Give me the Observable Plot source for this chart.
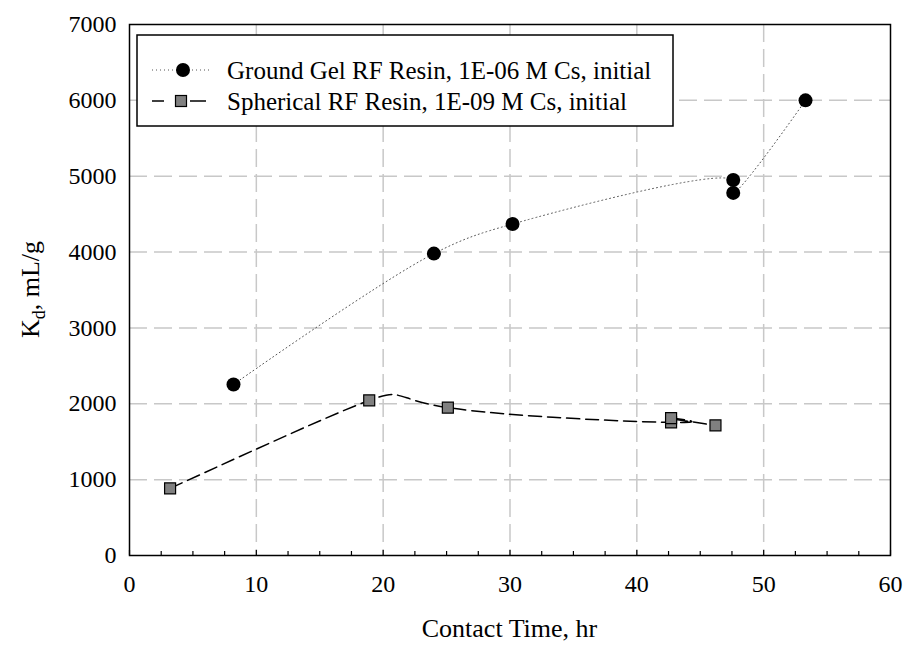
<!DOCTYPE html>
<html>
<head>
<meta charset="utf-8">
<script src="https://cdn.jsdelivr.net/npm/d3@7"></script>
<script src="https://cdn.jsdelivr.net/npm/@observablehq/plot@0.6"></script>
<style>
  html, body { margin: 0; padding: 0; background: white; }
  #chart { width: 906px; height: 646px; }
</style>
</head>
<body>
<div id="chart"></div>
<script>
// ---- data ----
const gelTime = [8.2, 24.0, 30.2, 47.6, 47.6, 53.3];
const gelKd   = [2255, 3980, 4370, 4950, 4780, 6000];
const sphTime = [3.2, 18.9, 25.1, 42.7, 42.7, 46.2];
const sphKd   = [885, 2045, 1950, 1755, 1810, 1715];

const xMajorTicks = [0, 10, 20, 30, 40, 50, 60];
const xMinorTicks = [2.5, 5, 7.5, 12.5, 15, 17.5, 22.5, 25, 27.5, 32.5, 35, 37.5, 42.5, 45, 47.5, 52.5, 55, 57.5];
const xGrid = [10, 20, 30, 40, 50];
const yTicks = [0, 1000, 2000, 3000, 4000, 5000, 6000, 7000];
const yGrid = [1000, 2000, 3000, 4000, 5000, 6000];

const seriesNames = ["Ground Gel RF Resin, 1E-06 M Cs, initial", "Spherical RF Resin, 1E-09 M Cs, initial"];
const xTitle = "Contact Time, hr";

const gel = gelTime.map((t, i) => ({t, kd: gelKd[i]}));
const sph = sphTime.map((t, i) => ({t, kd: sphKd[i]}));

const FONT = "'Liberation Serif', 'Times New Roman', Times, serif";
const gridStyle = {stroke: "#c8c8c8", strokeOpacity: 1, strokeWidth: 1.5, strokeDasharray: "18,7"};
const plotH = 646 - 24 - 91;

const chart = Plot.plot({
  width: 906,
  height: 646,
  marginLeft: 129,
  marginRight: 16,
  marginTop: 24,
  marginBottom: 91,
  style: {fontFamily: FONT, fontSize: "24px", background: "white", color: "black"},
  x: {domain: [0, 60]},
  y: {domain: [0, 7000]},
  marks: [
    Plot.gridX(xGrid, gridStyle),
    Plot.gridY(yGrid, gridStyle),
    Plot.line(gel, {x: "t", y: "kd", curve: "catmull-rom", stroke: "#555", strokeWidth: 1, strokeDasharray: "1,3"}),
    Plot.line(sph, {x: "t", y: "kd", curve: "natural", stroke: "black", strokeWidth: 1.5, strokeDasharray: "13,6"}),
    Plot.dot(gel, {x: "t", y: "kd", r: 7, fill: "black", stroke: "none"}),
    Plot.dot(sph, {x: "t", y: "kd", symbol: "square", r: 6.2, fill: "#808080", stroke: "black", strokeWidth: 1.2}),
    Plot.tickX(xMinorTicks, {x: d => d, insetTop: plotH - 4, stroke: "black", strokeWidth: 1.2}),
    Plot.tickX(xMajorTicks, {x: d => d, insetTop: plotH - 5, stroke: "black", strokeWidth: 1.2}),
    Plot.frame({stroke: "black", strokeWidth: 1.5}),
    Plot.axisX({ticks: xMajorTicks, tickSize: 0, tickPadding: 19, label: null, fontSize: 24, fontFamily: FONT, tickFormat: d => String(d)}),
    Plot.axisY({ticks: yTicks, tickSize: 0, tickPadding: 13, label: null, fontSize: 24, fontFamily: FONT, tickFormat: d => String(d)})
  ]
});

document.getElementById("chart").appendChild(chart);

const svg = d3.select(chart);

// y axis title with subscript
const yt = svg.append("text")
  .attr("transform", "translate(39,289.5) rotate(-90)")
  .attr("text-anchor", "middle")
  .style("font-family", FONT)
  .attr("font-size", 26)
  .attr("fill", "black");
yt.append("tspan").text("K");
yt.append("tspan").attr("font-size", 18).attr("dy", 6).text("d");
yt.append("tspan").attr("dy", -6).text(", mL/g");

// x axis title
svg.append("text")
  .attr("x", 509.5).attr("y", 637)
  .attr("text-anchor", "middle")
  .style("font-family", FONT)
  .attr("font-size", 26)
  .attr("fill", "black")
  .text(xTitle);

// legend
const lg = svg.append("g");
lg.append("rect").attr("x", 137).attr("y", 35).attr("width", 536).attr("height", 91)
  .attr("fill", "white").attr("stroke", "black").attr("stroke-width", 1.5);
// row 1
lg.append("line").attr("x1", 152).attr("x2", 212).attr("y1", 70).attr("y2", 70)
  .attr("stroke", "#555").attr("stroke-dasharray", "1,3");
lg.append("circle").attr("cx", 183).attr("cy", 70).attr("r", 7).attr("fill", "black");
// row 2
lg.append("line").attr("x1", 152).attr("x2", 164).attr("y1", 101).attr("y2", 101)
  .attr("stroke", "black").attr("stroke-width", 1.5);
lg.append("line").attr("x1", 190).attr("x2", 206).attr("y1", 101).attr("y2", 101)
  .attr("stroke", "black").attr("stroke-width", 1.5);
lg.append("rect").attr("x", 175.5).attr("y", 95.5).attr("width", 11).attr("height", 11)
  .attr("fill", "#808080").attr("stroke", "black").attr("stroke-width", 1.2);
seriesNames.forEach((name, i) => {
  lg.append("text").attr("x", 227).attr("y", 70 + i * 31).attr("dy", "0.35em")
    .attr("text-anchor", "start")
    .style("font-family", FONT).attr("font-size", 25).attr("fill", "black").text(name);
});
</script>
</body>
</html>
